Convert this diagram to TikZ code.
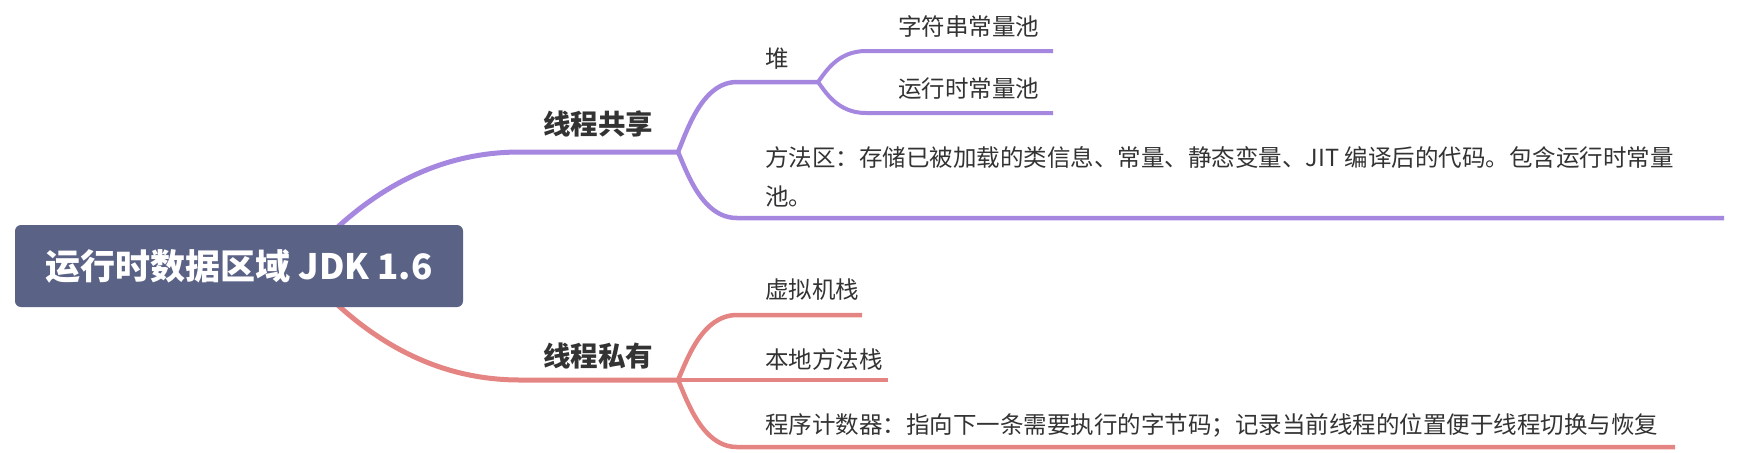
\documentclass[tikz,border=0pt]{standalone}
\usepackage{fontspec}
\setmainfont{Noto Sans CJK SC}
\definecolor{rootc}{HTML}{5A6286}
\definecolor{purp}{HTML}{A587E0}
\definecolor{pinkc}{HTML}{E58583}
\definecolor{txt}{HTML}{333333}
\begin{document}
\begin{tikzpicture}[x=0.5pt,y=-0.5pt,
  rootbox/.style={fill=rootc,text=white,rounded corners=3pt,minimum width=224pt,minimum height=41pt,inner sep=0pt,font=\fontsize{17.5pt}{21pt}\selectfont\bfseries},
  lvonetext/.style={text=txt,inner sep=0pt,anchor=west,font=\fontsize{13.75pt}{16pt}\selectfont\bfseries},
  lvtwotext/.style={text=txt,inner sep=0pt,anchor=west,align=left,font=\fontsize{11.75pt}{19.5pt}\selectfont},
  conone/.style={line width=2.5pt,line cap=butt},
  contwo/.style={line width=2.25pt,line cap=butt},
  conthree/.style={line width=2pt,line cap=butt}
]
\useasboundingbox (0,0) rectangle (1738,452);
% coordinates
\coordinate (rs) at (300,266);
\coordinate (p1) at (520,152);
\coordinate (sp) at (678,152);
\coordinate (h1) at (737,82);
\coordinate (hs) at (818,82);
\coordinate (a1) at (866,51);
\coordinate (a2) at (1053,51);
\coordinate (b1) at (866,113);
\coordinate (b2) at (1053,113);
\coordinate (m1) at (737,218);
\coordinate (m2) at (1724,218);
\coordinate (q1) at (520,380);
\coordinate (sq) at (678,380);
\coordinate (v1) at (737,315);
\coordinate (v2) at (862,315);
\coordinate (n2) at (888,380);
\coordinate (c1) at (737,447);
\coordinate (c2) at (1675,447);
% purple connectors
\draw[purp,conone] (rs) .. controls +(50,-58) and +(-100,0) .. (p1) -- (sp);
\draw[purp,contwo] (sp) .. controls +(9,-21) and +(-35,0) .. (h1) -- (hs);
\draw[purp,conthree] (hs) .. controls +(7,-9) and +(-29,0) .. (a1) -- (a2);
\draw[purp,conthree] (hs) .. controls +(7,9) and +(-29,0) .. (b1) -- (b2);
\draw[purp,contwo] (sp) .. controls +(9,20) and +(-35,0) .. (m1) -- (m2);
% pink connectors
\draw[pinkc,conone] (rs) .. controls +(50,58) and +(-100,0) .. (q1) -- (sq);
\draw[pinkc,contwo] (sq) .. controls +(9,-20) and +(-35,0) .. (v1) -- (v2);
\draw[pinkc,contwo] (sq) -- (n2);
\draw[pinkc,contwo] (sq) .. controls +(9,20) and +(-35,0) .. (c1) -- (c2);
% nodes
\node[rootbox] (root) at (239,266) {运行时数据区域 JDK 1.6};
\node[lvonetext] (share) at (543,124) {线程共享};
\node[lvonetext] (priv) at (543,356) {线程私有};
\node[lvtwotext] (heap) at (765,59) {堆};
\node[lvtwotext] (strp) at (898,26) {字符串常量池};
\node[lvtwotext] (rcp) at (898,89) {运行时常量池};
\node[lvtwotext,anchor=north west] (meth) at (765,146) {方法区：存储已被加载的类信息、常量、静态变量、JIT 编译后的代码。包含运行时常量\\池。};
\node[lvtwotext] (vms) at (765,290) {虚拟机栈};
\node[lvtwotext] (nms) at (765,360) {本地方法栈};
\node[lvtwotext] (pc) at (765,425) {程序计数器：指向下一条需要执行的字节码；记录当前线程的位置便于线程切换与恢复};
\end{tikzpicture}
\end{document}
